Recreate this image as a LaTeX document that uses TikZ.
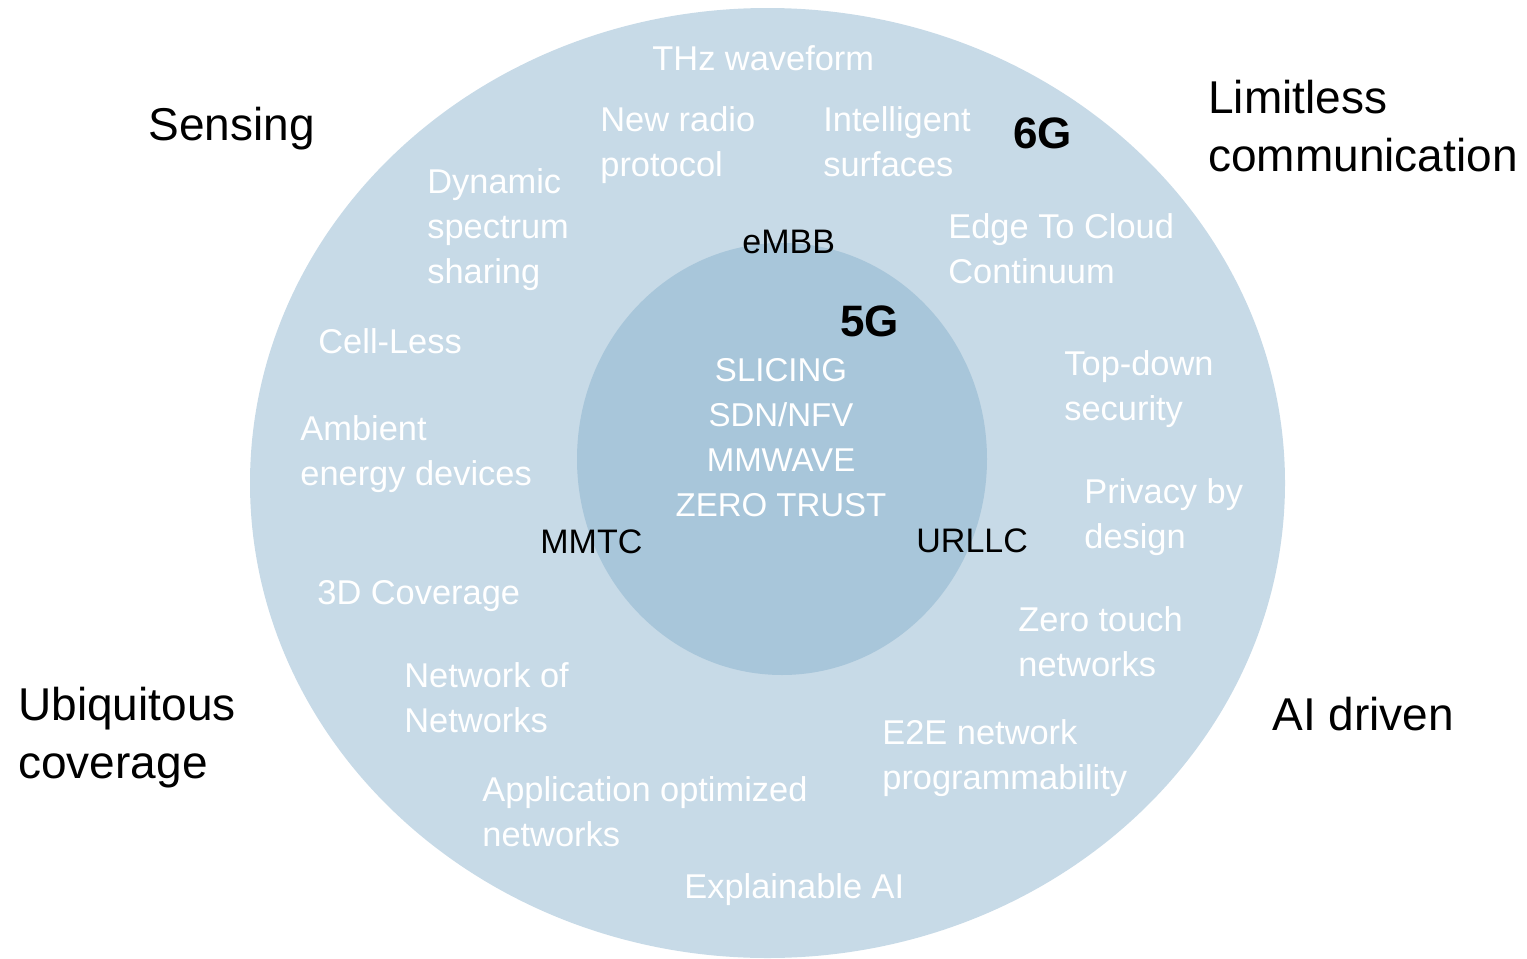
\documentclass[tikz,border=0pt]{standalone}
\usepackage{fontspec}
\setmainfont{Liberation Sans}
\definecolor{outerblue}{RGB}{199,218,231}
\definecolor{innerblue}{RGB}{168,198,218}
\tikzset{
  feat/.style={anchor=north west, inner sep=0pt, align=left, text=white,
    font=\fontsize{17.2pt}{22.5pt}\selectfont},
  corefeat/.style={anchor=north, inner sep=0pt, align=center, text=white,
    font=\fontsize{16.5pt}{22.5pt}\selectfont},
  pillar/.style={anchor=north west, inner sep=0pt, align=left, text=black,
    font=\fontsize{23pt}{29pt}\selectfont},
  gen/.style={anchor=north west, inner sep=0pt, text=black,
    font=\fontsize{22pt}{26pt}\selectfont\bfseries},
  usecase/.style={anchor=north west, inner sep=0pt, text=black,
    font=\fontsize{17pt}{20pt}\selectfont},
}
\begin{document}
\begin{tikzpicture}[x=0.5pt,y=-0.5pt]
\useasboundingbox (0,0) rectangle (1527,959);
\fill[outerblue] (767.5,483) ellipse [x radius=517.5, y radius=475];
\fill[innerblue] (782,459) ellipse [x radius=205, y radius=216];

% pillars
\node[pillar] (sensing) at (148,107) {Sensing};
\node[pillar] (limitless) at (1208,80) {Limitless\\communication};
\node[pillar] (ubiq) at (18,687) {Ubiquitous\\coverage};
\node[pillar] (aidriven) at (1272,697) {AI driven};

% generations
\node[gen] (g6) at (1013,117) {6G};
\node[gen] (g5) at (840,305) {5G};

% use cases
\node[usecase] (embb) at (742,230) {eMBB};
\node[usecase] (mmtc) at (540,529) {MMTC};
\node[usecase] (urllc) at (916,528) {URLLC};

% 5G features
\node[corefeat] (core) at (781,358) {SLICING\\SDN/NFV\\MMWAVE\\ZERO TRUST};

% 6G features
\node[feat] (thz) at (652,45) {THz waveform};
\node[feat] (newradio) at (600,106) {New radio\\protocol};
\node[feat] (intsurf) at (823,106) {Intelligent\\surfaces};
\node[feat] (dss) at (427,168) {Dynamic\\spectrum\\sharing};
\node[feat] (edge) at (948,213) {Edge To Cloud\\Continuum};
\node[feat] (cellless) at (318,328) {Cell-Less};
\node[feat] (topdown) at (1064,350) {Top-down\\security};
\node[feat] (ambient) at (300,415) {Ambient\\energy devices};
\node[feat] (privacy) at (1084,478) {Privacy by\\design};
\node[feat] (cov3d) at (317,580) {3D Coverage};
\node[feat] (zerotouch) at (1018,606) {Zero touch\\networks};
\node[feat] (nofn) at (404,662) {Network of\\Networks};
\node[feat] (e2e) at (882,719) {E2E network\\programmability};
\node[feat] (appopt) at (482,776) {Application optimized\\networks};
\node[feat] (xai) at (684,873) {Explainable AI};
\end{tikzpicture}
\end{document}
